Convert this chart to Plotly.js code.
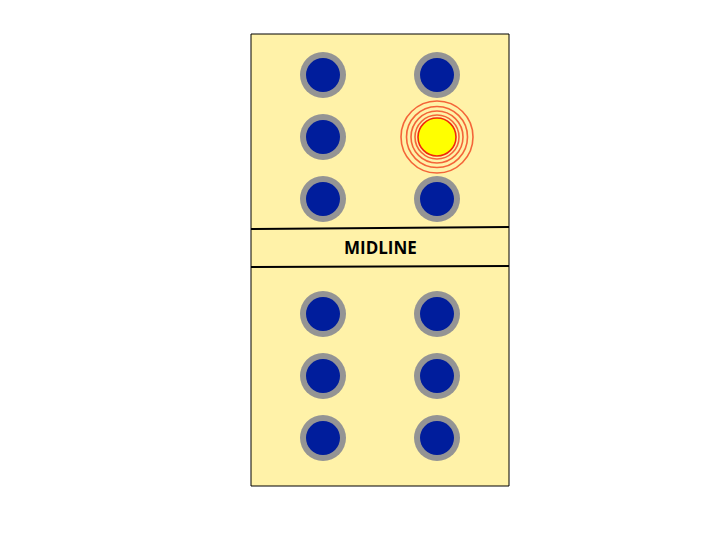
<!DOCTYPE html>
<html>
<head>
<script src="https://cdn.plot.ly/plotly-3.0.1.min.js"></script>
<style>body{margin:0}#chart{width:720px;height:540px}</style>
</head>
<body>
<div id="chart"></div>
<script>
// board layout (pixel-like units)
const boardX = [251, 509];
const boardY = [34, 486];
const midlineY = [228, 267];
const columnX = [323, 437];
const rowY = [75, 137, 199, 314, 376, 438];
const highlight = { x: 437, y: 137 };
const ringSizes = [44, 52, 61, 72];

const holesX = [];
const holesY = [];
rowY.forEach((y) => columnX.forEach((x) => {
  if (!(x === highlight.x && y === highlight.y)) { holesX.push(x); holesY.push(y); }
}));

const traces = [
  { type: "scatter", mode: "markers", x: holesX, y: holesY, hoverinfo: "skip",
    marker: { size: 46, color: "#949494", line: { width: 0 } } },
  { type: "scatter", mode: "markers", x: holesX, y: holesY, hoverinfo: "skip",
    marker: { size: 34, color: "#001d9c", line: { width: 0 } } },
  { type: "scatter", mode: "markers", x: ringSizes.map(() => highlight.x), y: ringSizes.map(() => highlight.y),
    hoverinfo: "skip",
    marker: { size: ringSizes, color: "rgba(0,0,0,0)", line: { width: 1.6, color: "#f02a0a" } } },
  { type: "scatter", mode: "markers", x: [highlight.x], y: [highlight.y], hoverinfo: "skip",
    marker: { size: 38, color: "#ffff00", line: { width: 1.6, color: "#f02a0a" } } },
];

const layout = {
  width: 720, height: 540,
  margin: { l: 0, r: 0, t: 0, b: 0 },
  paper_bgcolor: "#ffffff", plot_bgcolor: "#ffffff",
  showlegend: false,
  xaxis: { range: [0, 720], visible: false, fixedrange: true },
  yaxis: { range: [540, 0], visible: false, fixedrange: true },
  shapes: [
    { type: "rect", layer: "below", x0: boardX[0], x1: boardX[1], y0: boardY[0], y1: boardY[1],
      fillcolor: "#fff2a8", line: { color: "#000000", width: 1 } },
    { type: "line", x0: boardX[0], x1: boardX[1], y0: midlineY[0] + 1, y1: midlineY[0] - 1,
      line: { color: "#000000", width: 2 } },
    { type: "line", x0: boardX[0], x1: boardX[1], y0: midlineY[1], y1: midlineY[1] - 1,
      line: { color: "#000000", width: 2 } },
  ],
  annotations: [
    { x: (boardX[0] + boardX[1]) / 2, y: (midlineY[0] + midlineY[1]) / 2, text: "<b>MIDLINE</b>",
      showarrow: false, font: { family: "Open Sans, sans-serif", size: 17, color: "#000000" } },
  ],
};

Plotly.newPlot("chart", traces, layout, { displayModeBar: false, staticPlot: true });
</script>
</body>
</html>
